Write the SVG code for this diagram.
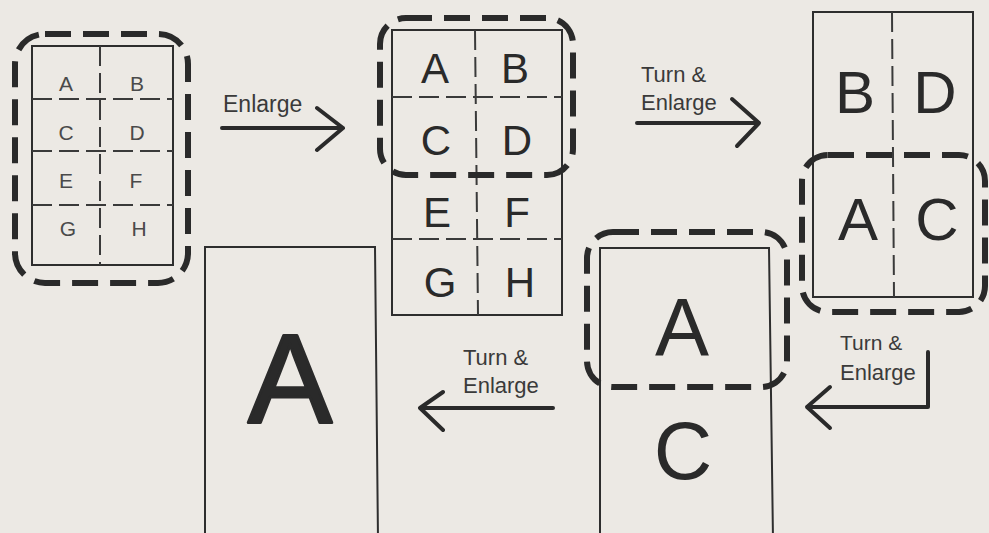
<svg xmlns="http://www.w3.org/2000/svg" width="989" height="533" viewBox="0 0 989 533">
<style>
.frame{fill:none;stroke:#2e2e2e;stroke-width:2}
.div{fill:none;stroke:#3a3a3a;stroke-width:2;stroke-dasharray:20 7}
.crop{fill:none;stroke:#2a2a2a;stroke-width:6;stroke-dasharray:26 12}
.arr{fill:none;stroke:#2a2a2a;stroke-width:4;stroke-linecap:round;stroke-linejoin:round}
.lab{font-family:"Liberation Sans",Arial,sans-serif;fill:#3a3a3a}
.let{font-family:"Liberation Sans",Arial,sans-serif;fill:#2a2a2a;text-anchor:middle}
</style>
<rect x="0" y="0" width="989" height="533" fill="#ece9e4"/>

<g id="panel1">
<rect class="frame" x="32" y="46" width="141" height="219"/>
<line class="div" x1="100" y1="46" x2="100" y2="265"/>
<line class="div" x1="32" y1="99" x2="173" y2="99"/>
<line class="div" x1="32" y1="151" x2="173" y2="151"/>
<line class="div" x1="32" y1="205" x2="173" y2="205"/>
<g class="let" font-size="21" style="fill:#4a4a4a">
<text x="66" y="91">A</text><text x="137" y="91">B</text>
<text x="66" y="140">C</text><text x="137" y="140">D</text>
<text x="66" y="188">E</text><text x="136" y="188">F</text>
<text x="68" y="236">G</text><text x="139" y="236">H</text>
</g>
<rect class="crop" x="15" y="34" width="173" height="249" rx="30"/>
</g>

<g id="panel2">
<rect class="frame" x="392" y="30" width="170" height="285"/>
<line class="div" x1="475" y1="30" x2="478" y2="315"/>
<line class="div" x1="392" y1="97" x2="562" y2="97"/>
<line class="div" x1="392" y1="239" x2="562" y2="239"/>
<g class="let" font-size="42">
<text x="435" y="83">A</text><text x="515" y="83">B</text>
<text x="436" y="155">C</text><text x="517" y="155">D</text>
<text x="437" y="227">E</text><text x="517" y="227">F</text>
<text x="440" y="297">G</text><text x="520" y="297">H</text>
</g>
<rect class="crop" x="380" y="18" width="193" height="157" rx="26"/>
</g>

<g id="panel3">
<rect class="frame" x="813" y="12" width="160" height="285"/>
<line class="div" x1="892" y1="12" x2="894" y2="297"/>
<g class="let" font-size="60">
<text x="855" y="113">B</text><text x="935" y="113">D</text>
<text x="858" y="240">A</text><text x="937" y="240">C</text>
</g>
<rect class="crop" x="802" y="155" width="183" height="157" rx="26"/>
</g>

<g id="panel4">
<path class="frame" d="M600,540 L600,248 L769,248 L773,540"/>
<g class="let" font-size="81">
<text x="682" y="355">A</text>
<text x="683" y="479">C</text>
</g>
<rect class="crop" x="587" y="232" width="200" height="155" rx="26"/>
</g>

<g id="panel5">
<path class="frame" d="M205,540 L205,247 L375,247 L378,540"/>
<text class="let" x="290" y="422" font-size="126" stroke="#2a2a2a" stroke-width="3" stroke-linejoin="round">A</text>
</g>

<g id="connectors">
<path class="arr" d="M222,128 L343,128 M317,108 L343,128 L317,150"/>
<path class="arr" d="M637,123 L759,123 M732,99 L759,123 L737,146"/>
<path class="arr" d="M928,352 L928,407 L807,407 M830,387 L807,407 L830,428"/>
<path class="arr" d="M553,408 L420,408 M443,392 L420,408 L443,430"/>
</g>

<g id="labels">
<text class="lab" x="223" y="112" font-size="23">Enlarge</text>
<text class="lab" x="641" y="82" font-size="22">Turn &amp;</text>
<text class="lab" x="641" y="110" font-size="22">Enlarge</text>
<text class="lab" x="840" y="350" font-size="21">Turn &amp;</text>
<text class="lab" x="840" y="380" font-size="22">Enlarge</text>
<text class="lab" x="463" y="365" font-size="22">Turn &amp;</text>
<text class="lab" x="463" y="393" font-size="22">Enlarge</text>
</g>
</svg>
